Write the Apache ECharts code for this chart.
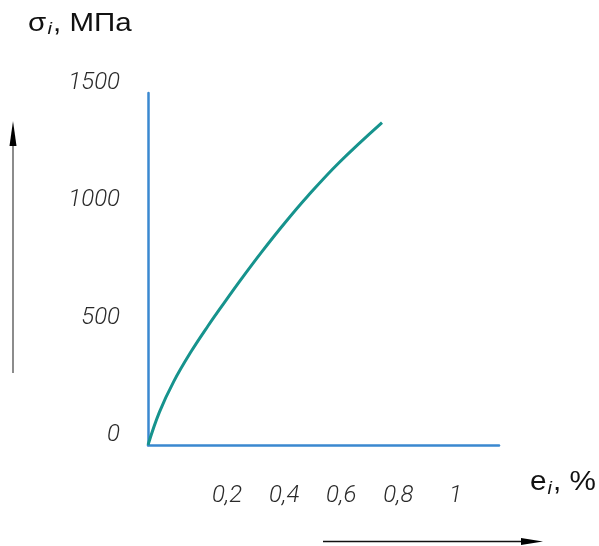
<!DOCTYPE html>
<html>
<head>
<meta charset="utf-8">
<script src="https://cdn.jsdelivr.net/npm/echarts@6/dist/echarts.min.js"></script>
<style>
  html, body { margin: 0; padding: 0; background: #fff; }
  #chart { width: 599px; height: 546px; }
</style>
</head>
<body>
<div id="chart"></div>
<script>
// деформация e_i, % и напряжение sigma_i, МПа
const strain = [0, 0.04, 0.09, 0.15, 0.21, 0.27, 0.33, 0.40, 0.48, 0.56, 0.67, 0.82];
const stress = [0, 140, 270, 396, 507, 611, 712, 825, 947, 1061, 1204, 1374];
const xTickValues = [0.2, 0.4, 0.6, 0.8, 1];
const xTickLabels = ['0,2', '0,4', '0,6', '0,8', '1'];
const yTickLabels = ['0', '500', '1000', '1500'];

const numFont = {
  fontFamily: 'Roboto',
  fontStyle: 'italic',
  fontWeight: 300,
  fontSize: 24,
  color: '#2a2a2a'
};

let myChart = echarts.init(document.getElementById('chart'));

let option = {
  animation: false,
  grid: { left: 148, top: 93, width: 351, height: 352 },
  xAxis: {
    type: 'value',
    min: 0,
    max: 1.23,
    interval: 0.2,
    axisLine: { lineStyle: { color: '#3a88d0', width: 2.5 } },
    axisTick: { show: false },
    splitLine: { show: false },
    axisLabel: Object.assign({}, numFont, {
      margin: 39,
      padding: [0, 0, 0, 44],
      showMinLabel: false,
      showMaxLabel: false,
      formatter: function (v) {
        let i = xTickValues.findIndex(t => Math.abs(t - v) < 1e-6);
        return i >= 0 ? xTickLabels[i] : '';
      }
    })
  },
  yAxis: {
    type: 'value',
    min: 0,
    max: 1500,
    interval: 500,
    axisLine: { show: true, lineStyle: { color: '#3a88d0', width: 2.5 } },
    axisTick: { show: false },
    splitLine: { show: false },
    axisLabel: Object.assign({}, numFont, {
      margin: 28,
      verticalAlign: 'bottom',
      lineHeight: 20,
      formatter: function (v) {
        return yTickLabels[Math.round(v / 500)] || '';
      }
    })
  },
  series: [{
    type: 'line',
    smooth: 0.4,
    showSymbol: false,
    lineStyle: { color: '#16938d', width: 3 },
    data: strain.map((x, i) => [x, stress[i]])
  }],
  graphic: [
    {
      type: 'text',
      x: 28, y: 24,
      scaleX: 1.18,
      style: {
        text: '{a|σ}{b|i}{a|, МПа}',
        verticalAlign: 'middle',
        rich: {
          a: { fontFamily: 'Liberation Sans', fontSize: 25, fill: '#111' },
          b: { fontFamily: 'Liberation Sans', fontStyle: 'italic', fontSize: 17, fill: '#111', padding: [10, 1, 0, 1] }
        }
      }
    },
    {
      type: 'text',
      x: 530, y: 483,
      scaleX: 1.1,
      style: {
        text: '{a|e}{b|i}{a|, %}',
        verticalAlign: 'middle',
        rich: {
          a: { fontFamily: 'Liberation Sans', fontSize: 27, fill: '#111' },
          b: { fontFamily: 'Liberation Sans', fontStyle: 'italic', fontSize: 18, fill: '#111', padding: [11, 1, 0, 1] }
        }
      }
    },
    // стрелка слева
    {
      type: 'line',
      shape: { x1: 13, y1: 373, x2: 13, y2: 140 },
      style: { stroke: '#666', lineWidth: 1.5 }
    },
    {
      type: 'polygon',
      shape: { points: [[13, 121], [9.5, 146], [16.5, 146]] },
      style: { fill: '#000' }
    },
    // стрелка снизу
    {
      type: 'line',
      shape: { x1: 323, y1: 541.5, x2: 525, y2: 541.5 },
      style: { stroke: '#111', lineWidth: 1.5 }
    },
    {
      type: 'polygon',
      shape: { points: [[543, 541.5], [521, 538], [521, 545]] },
      style: { fill: '#000' }
    }
  ]
};

myChart.setOption(option);
</script>
</body>
</html>
